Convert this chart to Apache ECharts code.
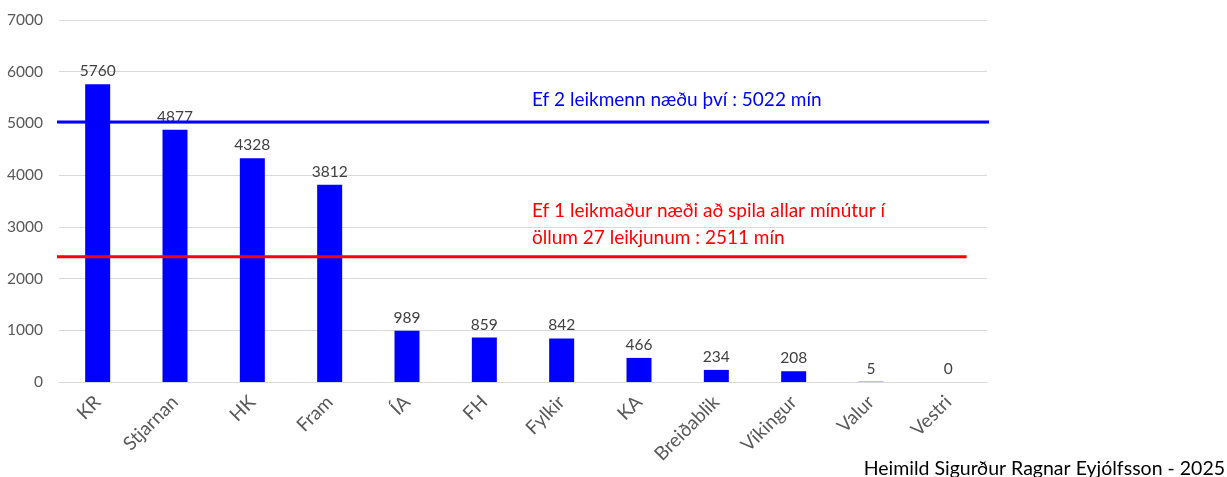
<!DOCTYPE html>
<html>
<head>
<meta charset="utf-8">
<script src="https://cdn.jsdelivr.net/npm/echarts@6/dist/echarts.min.js"></script>
<style>
html,body{margin:0;padding:0;background:#fff;}
#chart{width:1227px;height:477px;}
</style>
</head>
<body>
<div id="chart"></div>
<script>
const categories = ['KR','Stjarnan','HK','Fram','ÍA','FH','Fylkir','KA','Breiðablik','Víkingur','Valur','Vestri'];
const minutes = [5760, 4877, 4328, 3812, 989, 859, 842, 466, 234, 208, 5, 0];
const yTicks = [0, 1000, 2000, 3000, 4000, 5000, 6000, 7000];
// reference lines as drawn in the picture: [x (fraction of plot width), y value]
const blueLine = [[-0.053, 5030], [1.0065, 5030]];
const redLine = [[-0.053, 2420], [0.978, 2420]];
const blueText = 'Ef 2 leikmenn næðu því : 5022 mín';
const redText1 = 'Ef 1 leikmaður næði að spila allar mínútur í';
const redText2 = 'öllum 27 leikjunum : 2511 mín';
const sourceText = 'Heimild Sigurður Ragnar Eyjólfsson - 2025';

const FONT = 'Lato, "Open Sans", sans-serif';
const chart = echarts.init(document.getElementById('chart'));
chart.setOption({
  animation: false,
  grid: {left: 59, right: 240, top: 20, bottom: 95, containLabel: false},
  xAxis: [{
    type: 'category', data: categories,
    axisLine: {show: true, lineStyle: {color: '#d9d9d9', width: 1}},
    axisTick: {show: false},
    axisLabel: {rotate: 45, fontSize: 19, color: '#595959', fontFamily: FONT, margin: 17, interval: 0}
  }, {
    type: 'value', min: 0, max: 1, show: false
  }],
  yAxis: {
    type: 'value', min: yTicks[0], max: yTicks[yTicks.length-1], interval: 1000,
    axisLine: {show: false}, axisTick: {show: false},
    splitLine: {lineStyle: {color: '#d9d9d9', width: 1}},
    axisLabel: {fontSize: 15.5, color: '#595959', fontFamily: FONT, margin: 16, formatter: v => String(v)}
  },
  series: [{
    type: 'bar', data: minutes, xAxisIndex: 0, barWidth: 25,
    itemStyle: {color: '#0000ff'},
    label: {show: true, position: 'top', fontSize: 15.5, color: '#404040', fontFamily: FONT, distance: 5}
  }, {
    type: 'line', xAxisIndex: 1, data: blueLine, clip: false, symbol: 'none',
    lineStyle: {color: '#0000ff', width: 3}, z: 5
  }, {
    type: 'line', xAxisIndex: 1, data: redLine, clip: false, symbol: 'none',
    lineStyle: {color: '#ff0000', width: 3}, z: 5
  }],
  graphic: [
    {type: 'text', left: 532, top: 90, style: {text: blueText, fill: '#0000ff', font: '19px ' + FONT}},
    {type: 'text', left: 532, top: 201, style: {text: redText1, fill: '#ff0000', font: '19px ' + FONT}},
    {type: 'text', left: 532, top: 228, style: {text: redText2, fill: '#ff0000', font: '19px ' + FONT}},
    {type: 'text', right: 2, top: 459, style: {text: sourceText, fill: '#000000', font: '19.5px ' + FONT}}
  ]
});
</script>
</body>
</html>
